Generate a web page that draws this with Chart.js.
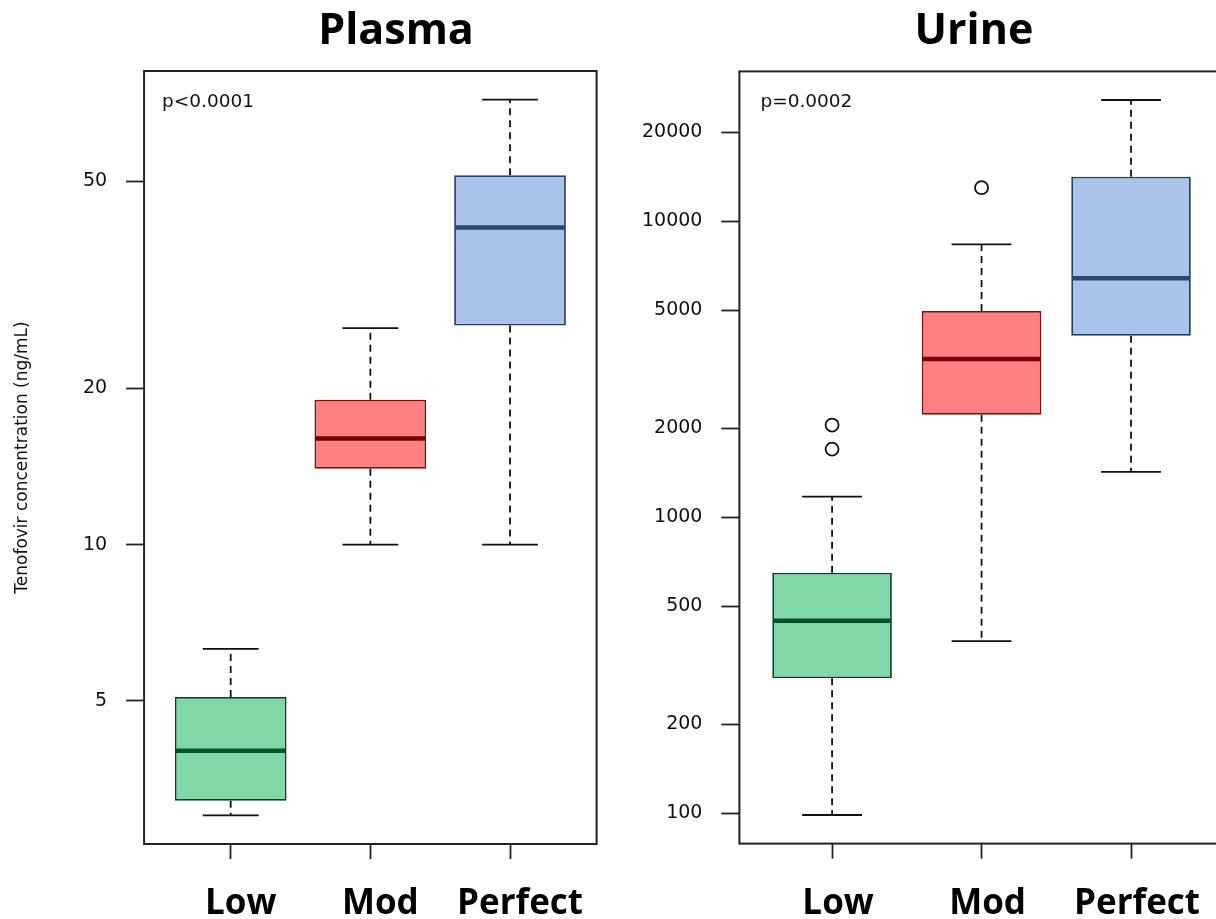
<!DOCTYPE html>
<html>
<head>
<meta charset="utf-8">
<script src="https://cdn.jsdelivr.net/npm/chart.js@4.4.1/dist/chart.umd.min.js"></script>
<style>
  html, body { margin: 0; padding: 0; background: #fff; overflow: hidden; width: 1216px; height: 919px; }
  .panel { position: absolute; top: 0; }
  #plasmaPanel { left: 0; }
  #urinePanel { left: 610px; }
</style>
</head>
<body>
<div class="panel" id="plasmaPanel"><canvas id="plasma" width="610" height="919"></canvas></div>
<div class="panel" id="urinePanel"><canvas id="urine" width="622" height="919"></canvas></div>
<script>
// Adherence groups and their positions on the x axis
const groups = ['Low', 'Mod', 'Perfect'];
const groupPositions = [1, 2, 3];

// Plasma tenofovir (ng/mL): five-number summaries per group
const plasmaWhiskerLow  = [3.01, 10.0, 10.0];
const plasmaQ1          = [3.21, 14.0, 26.4];
const plasmaMedian      = [4.01, 16.0, 40.8];
const plasmaQ3          = [5.09, 19.0, 51.4];
const plasmaWhiskerHigh = [6.30, 26.1, 71.9];
const plasmaOutliers    = [[], [], []];
const plasmaTicks       = [5, 10, 20, 50];

// Urine tenofovir (ng/mL)
const urineWhiskerLow  = [98.7, 382, 1424];
const urineQ1          = [286, 2220, 4110];
const urineMedian      = [447, 3430, 6420];
const urineQ3          = [650, 4980, 14150];
const urineWhiskerHigh = [1175, 8360, 25700];
const urineOutliers    = [[1700, 2050], [12990], []];
const urineTicks       = [100, 200, 500, 1000, 2000, 5000, 10000, 20000];

const fillColors   = ['#80d8a6', '#ff8080', '#a9c4e8'];
const edgeColors   = ['#0c3f22', '#7a1010', '#243f63'];
const medianColors = ['#00522a', '#780000', '#2d4870'];

// Log range padded by 4% on each side, like base graphics
function logRange(lo, hi, outliers) {
  const all = lo.concat(hi, outliers.flat());
  const a = Math.log10(Math.min(...all));
  const b = Math.log10(Math.max(...all));
  const pad = (b - a) * 0.04;
  return { min: Math.pow(10, a - pad), max: Math.pow(10, b + pad) };
}

const xPad = groups.length * 0.04;

// Whiskers, caps, medians, frame and annotations
const boxParts = {
  id: 'boxParts',
  beforeDatasetsDraw(chart, args, o) {
    const { ctx, scales: { x, y } } = chart;
    const bars = chart.getDatasetMeta(0).data;
    ctx.save();
    ctx.strokeStyle = '#111';
    ctx.lineWidth = 1.8;
    groupPositions.forEach((g, i) => {
      const px = x.getPixelForValue(g);
      const half = bars[i].width / 4;
      const yLo = y.getPixelForValue(o.lo[i]);
      const yQ1 = y.getPixelForValue(o.q1[i]);
      const yQ3 = y.getPixelForValue(o.q3[i]);
      const yHi = y.getPixelForValue(o.hi[i]);
      ctx.setLineDash([7, 5]);
      ctx.beginPath();
      ctx.moveTo(px, yQ3); ctx.lineTo(px, yHi);
      ctx.moveTo(px, yQ1); ctx.lineTo(px, yLo);
      ctx.stroke();
      ctx.setLineDash([]);
      ctx.beginPath();
      ctx.moveTo(px - half, yHi); ctx.lineTo(px + half, yHi);
      ctx.moveTo(px - half, yLo); ctx.lineTo(px + half, yLo);
      ctx.stroke();
    });
    ctx.restore();
  },
  afterDatasetsDraw(chart, args, o) {
    const { ctx, scales: { x, y } } = chart;
    const bars = chart.getDatasetMeta(0).data;
    ctx.save();
    ctx.lineWidth = 4.5;
    groupPositions.forEach((g, i) => {
      const px = x.getPixelForValue(g);
      const half = bars[i].width / 2 - 1;
      const ym = y.getPixelForValue(o.med[i]);
      ctx.strokeStyle = medianColors[i];
      ctx.beginPath();
      ctx.moveTo(px - half, ym); ctx.lineTo(px + half, ym);
      ctx.stroke();
    });
    ctx.restore();
  },
  afterDraw(chart, args, o) {
    const { ctx, chartArea: a } = chart;
    ctx.save();
    ctx.strokeStyle = '#222';
    ctx.lineWidth = 2;
    ctx.strokeRect(a.left, a.top, a.right - a.left, a.bottom - a.top);
    ctx.fillStyle = '#111';
    ctx.font = '18.5px "DejaVu Sans"';
    ctx.textAlign = 'left';
    ctx.textBaseline = 'alphabetic';
    ctx.fillText(o.pText, a.left + o.pDx, 107);
    ctx.fillStyle = '#000';
    ctx.font = 'bold 43px "Open Sans"';
    ctx.textAlign = 'center';
    ctx.fillText(o.title, o.titleX, 44);
    ctx.restore();
  }
};

function makeChart(id, cfg) {
  const r = logRange(cfg.lo, cfg.hi, cfg.outliers);
  const outlierPoints = [];
  cfg.outliers.forEach((list, i) => list.forEach(v => outlierPoints.push({ x: groupPositions[i], y: v })));
  return new Chart(document.getElementById(id), {
    type: 'bar',
    data: {
      datasets: [
        {
          type: 'bar',
          data: groupPositions.map((g, i) => ({ x: g, y: [cfg.q1[i], cfg.q3[i]] })),
          backgroundColor: fillColors,
          borderColor: edgeColors,
          borderWidth: 1.8,
          borderSkipped: false,
          barPercentage: 0.8,
          categoryPercentage: 1.0
        },
        {
          type: 'scatter',
          data: outlierPoints,
          pointStyle: 'circle',
          pointRadius: 6.5,
          borderColor: '#111',
          borderWidth: 1.8,
          backgroundColor: 'rgba(0,0,0,0)'
        }
      ]
    },
    options: {
      responsive: false,
      animation: false,
      events: [],
      layout: { padding: cfg.padding },
      plugins: {
        legend: { display: false },
        tooltip: { enabled: false },
        boxParts: {
          lo: cfg.lo, q1: cfg.q1, med: cfg.med, q3: cfg.q3, hi: cfg.hi,
          pText: cfg.pText, pDx: cfg.pDx, title: cfg.title, titleX: cfg.titleX
        }
      },
      scales: {
        x: {
          type: 'linear',
          min: 0.5 - xPad,
          max: groups.length + 0.5 + xPad,
          offset: false,
          afterBuildTicks: s => { s.ticks = groupPositions.map(v => ({ value: v })); },
          afterFit: s => { s.height = cfg.xHeight; },
          ticks: {
            autoSkip: false,
            maxRotation: 0,
            padding: 24,
            labelOffset: cfg.labelOffset,
            color: '#000',
            font: { family: 'Open Sans', size: 35, weight: 'bold' },
            callback: v => groups[groupPositions.indexOf(v)]
          },
          grid: { offset: false, drawOnChartArea: false, tickLength: 15, tickColor: '#222', tickWidth: 1.8 },
          border: { display: false }
        },
        y: {
          type: 'logarithmic',
          min: r.min,
          max: r.max,
          afterBuildTicks: s => { s.ticks = cfg.ticks.map(v => ({ value: v })); },
          afterFit: s => { s.width = cfg.yWidth; },
          ticks: {
            autoSkip: false,
            padding: 19,
            color: '#111',
            font: { family: 'DejaVu Sans', size: 19 },
            callback: v => String(v)
          },
          grid: { drawOnChartArea: false, tickLength: 18, tickColor: '#222', tickWidth: 1.8 },
          border: { display: false },
          title: {
            display: !!cfg.yTitle,
            text: cfg.yTitle || '',
            color: '#111',
            font: { family: 'DejaVu Sans', size: 17 },
            padding: { top: 12, bottom: 0 }
          }
        }
      }
    },
    plugins: [boxParts]
  });
}

makeChart('plasma', {
  lo: plasmaWhiskerLow, q1: plasmaQ1, med: plasmaMedian, q3: plasmaQ3, hi: plasmaWhiskerHigh,
  outliers: plasmaOutliers, ticks: plasmaTicks,
  title: 'Plasma', titleX: 396, pText: 'p<0.0001', pDx: 18,
  yTitle: 'Tenofovir concentration (ng/mL)',
  padding: { top: 71, right: 13.4, left: 0, bottom: 0 },
  yWidth: 144.1, xHeight: 75, labelOffset: 10
});

makeChart('urine', {
  lo: urineWhiskerLow, q1: urineQ1, med: urineMedian, q3: urineQ3, hi: urineWhiskerHigh,
  outliers: urineOutliers, ticks: urineTicks,
  title: 'Urine', titleX: 364, pText: 'p=0.0002', pDx: 21,
  yTitle: '',
  padding: { top: 71.4, right: 3.4, left: 0, bottom: 0 },
  yWidth: 129.4, xHeight: 75.4, labelOffset: 6
});
</script>
</body>
</html>
